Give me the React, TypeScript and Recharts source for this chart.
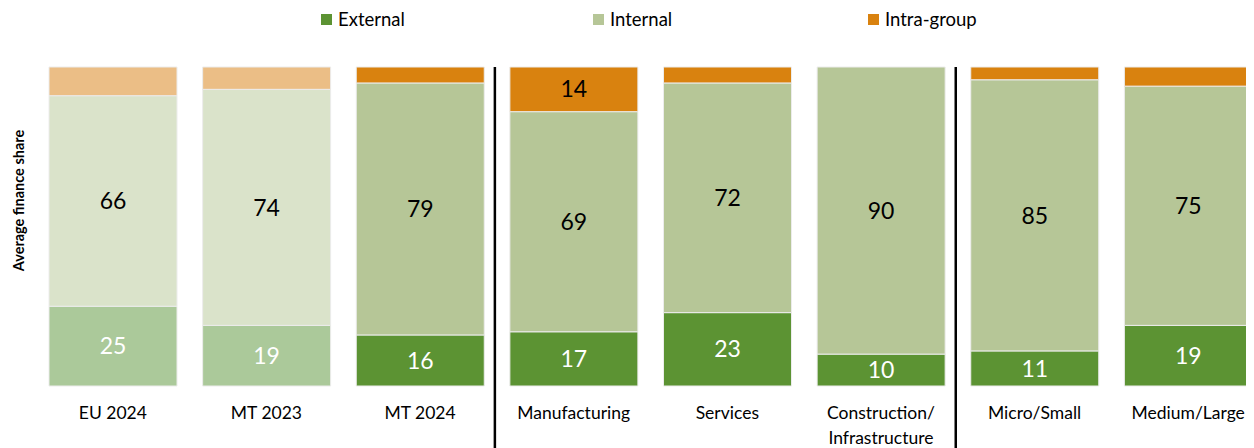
import React from "react";
import {
  BarChart,
  Bar,
  XAxis,
  YAxis,
  Cell,
  LabelList,
  ReferenceLine,
} from "recharts";

const categories = [
  "EU 2024",
  "MT 2023",
  "MT 2024",
  "Manufacturing",
  "Services",
  "Construction/\nInfrastructure",
  "Micro/Small",
  "Medium/Large",
];
const external = [25, 19, 16, 17, 23, 10, 11, 19];
const internal = [66, 74, 79, 69, 72, 90, 85, 75];
const intraGroup = [9, 7, 5, 14, 5, 0, 4, 6];
// first two bars are shown as a faded comparison
const faded = [true, true, false, false, false, false, false, false];
const dividers = ["Manufacturing", "Micro/Small"];

const seriesNames = ["External", "Internal", "Intra-group"];
const colors = {
  external: ["#5c9333", "#abc99a"],
  internal: ["#b6c697", "#dae3ca"],
  intra: ["#d9820f", "#ebbe86"],
};

const data = categories.map((name, i) => ({
  name,
  external: external[i],
  internal: internal[i],
  intra: intraGroup[i],
}));

const FONT = "Lato, 'Noto Sans', sans-serif";

const XTick = ({ x, y, payload }: any) => {
  const lines = String(payload.value).split("\n");
  return (
    <text x={x} y={y} textAnchor="middle" fontFamily={FONT} fontSize={17.5} fill="#000">
      {lines.map((l, i) => (
        <tspan key={i} x={x} dy={i === 0 ? 33 : 25}>
          {l}
        </tspan>
      ))}
    </text>
  );
};

const YTitle = ({ viewBox }: any) => {
  const cx = viewBox.x + 10;
  const cy = viewBox.y + viewBox.height / 2 - 26;
  return (
    <text
      x={cx}
      y={cy}
      transform={`rotate(-90, ${cx}, ${cy})`}
      textAnchor="middle"
      dominantBaseline="central"
      fontFamily={FONT}
      fontWeight="bold"
      fontSize={14.5}
      fill="#000"
    >
      Average finance share
    </text>
  );
};

const Divider = (props: any) => {
  const x = props.x1 - 2;
  const top = Math.min(props.y1, props.y2);
  const bottom = Math.max(props.y1, props.y2);
  return <line x1={x} x2={x} y1={top} y2={bottom + 70} stroke="#000" strokeWidth={2.5} />;
};

const legendColors = [colors.external[0], colors.internal[0], colors.intra[0]];
const legendLeft = [313, 585, 860];

export default function App() {
  return (
    <div style={{ position: "relative", width: 1246, height: 440, overflow: "hidden" }}>
      {seriesNames.map((s, i) => (
        <div
          key={s}
          style={{
            position: "absolute",
            left: legendLeft[i],
            top: 0,
            height: 22,
            display: "flex",
            alignItems: "center",
            fontFamily: FONT,
            fontSize: 18.5,
            color: "#000",
            whiteSpace: "nowrap",
          }}
        >
          <span style={{ display: "inline-block", width: 11, height: 11, background: legendColors[i], marginRight: 6 }} />
          {s}
        </div>
      ))}
      <BarChart
        width={1257}
        height={440}
        data={data}
        margin={{ top: 59, right: 0, bottom: 0, left: 0 }}
        barSize={128}
      >
        <XAxis
          dataKey="name"
          axisLine={false}
          tickLine={false}
          tickSize={0}
          tickMargin={0}
          height={62}
          interval={0}
          tick={<XTick />}
        />
        <YAxis
          width={28}
          domain={[0, 100]}
          tick={false}
          axisLine={false}
          tickLine={false}
          label={<YTitle />}
        />
        <Bar dataKey="external" stackId="a" stroke="#ececec" strokeWidth={1} isAnimationActive={false}>
          {data.map((d, i) => (
            <Cell key={d.name} fill={colors.external[faded[i] ? 1 : 0]} />
          ))}
          <LabelList dataKey="external" position="center" fill="#fff" fontSize={23} fontFamily={FONT} />
        </Bar>
        <Bar dataKey="internal" stackId="a" stroke="#ececec" strokeWidth={1} isAnimationActive={false}>
          {data.map((d, i) => (
            <Cell key={d.name} fill={colors.internal[faded[i] ? 1 : 0]} />
          ))}
          <LabelList dataKey="internal" position="center" fill="#000" fontSize={23} fontFamily={FONT} />
        </Bar>
        <Bar dataKey="intra" stackId="a" stroke="#ececec" strokeWidth={1} isAnimationActive={false}>
          {data.map((d, i) => (
            <Cell key={d.name} fill={colors.intra[faded[i] ? 1 : 0]} />
          ))}
          <LabelList
            dataKey="intra"
            position="center"
            fill="#000"
            fontSize={23}
            fontFamily={FONT}
            formatter={(v: any) => (v >= 10 ? v : "")}
          />
        </Bar>
        {dividers.map((c) => (
          <ReferenceLine key={c} x={c} position="start" ifOverflow="visible" shape={<Divider />} />
        ))}
      </BarChart>
    </div>
  );
}
